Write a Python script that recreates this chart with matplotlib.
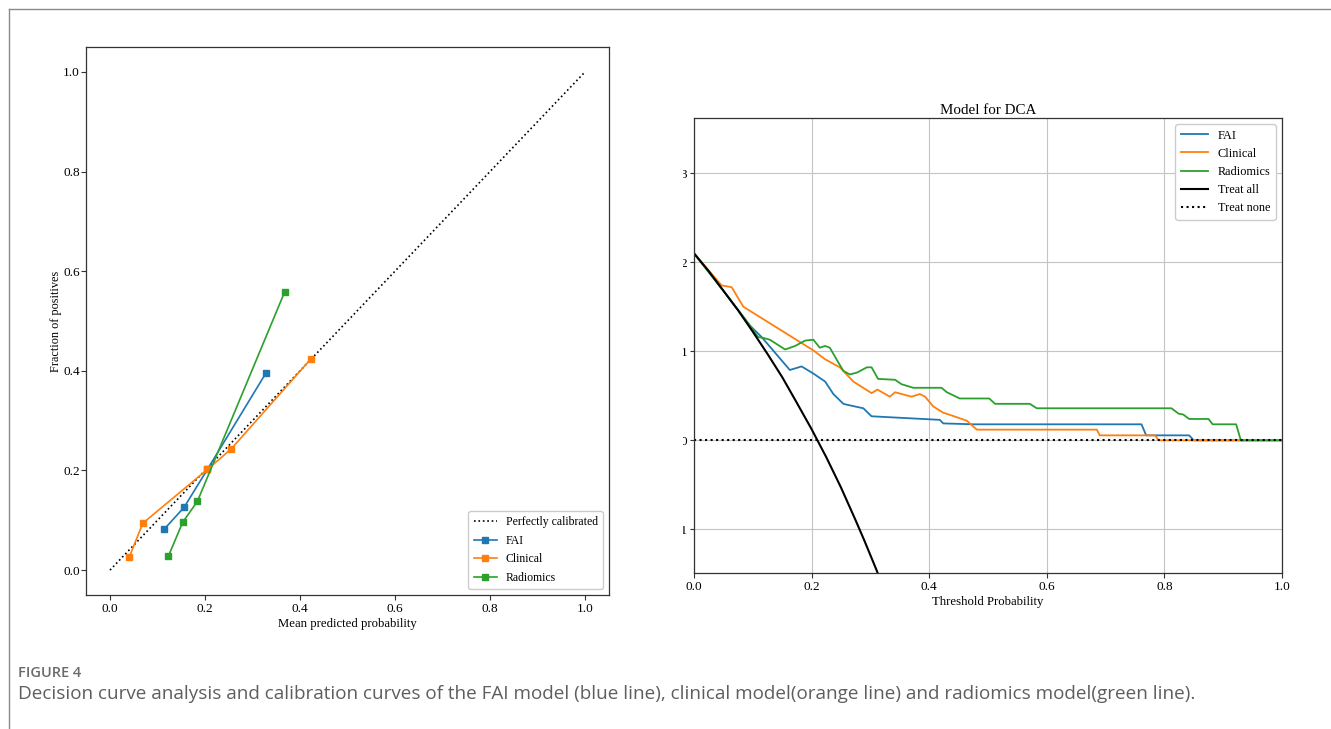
import matplotlib
matplotlib.use("Agg")
import matplotlib.pyplot as plt
from matplotlib.transforms import Bbox, TransformedBbox
from matplotlib.lines import Line2D

# ---------------- Calibration data ----------------
fai_pred = [0.114, 0.156, 0.205, 0.328]
fai_frac = [0.082, 0.126, 0.202, 0.395]
clin_pred = [0.041, 0.069, 0.205, 0.255, 0.423]
clin_frac = [0.027, 0.094, 0.202, 0.243, 0.424]
rad_pred = [0.123, 0.153, 0.184, 0.368]
rad_frac = [0.028, 0.096, 0.138, 0.559]
cal_ticks = [0.0, 0.2, 0.4, 0.6, 0.8, 1.0]

# ---------------- DCA data ----------------
fai_thr = [0.0, 0.05, 0.095, 0.115, 0.163, 0.183, 0.203, 0.223, 0.237, 0.254, 0.26, 0.288,
           0.302, 0.418, 0.424, 0.475, 0.52, 0.761, 0.769, 0.842, 0.85, 1.0]
fai_nb = [0.21, 0.168, 0.129, 0.116, 0.079, 0.083, 0.075, 0.066, 0.052, 0.041, 0.040, 0.036,
          0.027, 0.023, 0.019, 0.018, 0.018, 0.018, 0.0056, 0.0056, 0.0, 0.0]
clin_thr = [0.0, 0.047, 0.064, 0.084, 0.203, 0.223, 0.248, 0.271, 0.302, 0.312, 0.333, 0.342,
            0.370, 0.384, 0.393, 0.407, 0.424, 0.438, 0.464, 0.481, 0.685, 0.69, 0.784, 0.79, 1.0]
clin_nb = [0.21, 0.174, 0.172, 0.150, 0.101, 0.091, 0.082, 0.066, 0.053, 0.057, 0.049, 0.054,
           0.049, 0.052, 0.049, 0.038, 0.031, 0.028, 0.022, 0.012, 0.012, 0.0056, 0.0056, 0.0, 0.0]
rad_thr = [0.0, 0.05, 0.095, 0.109, 0.118, 0.129, 0.155, 0.172, 0.189, 0.203, 0.214, 0.223,
           0.231, 0.245, 0.254, 0.265, 0.277, 0.294, 0.302, 0.313, 0.342, 0.353, 0.373, 0.421,
           0.430, 0.452, 0.502, 0.512, 0.571, 0.583, 0.812, 0.824, 0.832, 0.842, 0.875, 0.882,
           0.922, 0.930, 1.0]
rad_nb = [0.21, 0.168, 0.129, 0.116, 0.115, 0.113, 0.102, 0.106, 0.112, 0.113, 0.104, 0.106,
          0.104, 0.088, 0.078, 0.074, 0.076, 0.082, 0.082, 0.069, 0.068, 0.063, 0.059, 0.059,
          0.054, 0.047, 0.047, 0.041, 0.041, 0.036, 0.036, 0.030, 0.029, 0.024, 0.024, 0.018,
          0.018, 0.0, 0.0]
all_thr = [0.0, 0.025, 0.05, 0.075, 0.10, 0.125, 0.15, 0.175, 0.20, 0.225, 0.25, 0.275,
           0.29, 0.31, 0.32]
all_nb = [0.21, 0.190, 0.168, 0.146, 0.122, 0.097, 0.071, 0.042, 0.0125, -0.019, -0.053,
          -0.090, -0.113, -0.145, -0.162]
none_thr = [0.0, 1.0]
none_nb = [0.0, 0.0]
dca_xticks = [0.0, 0.2, 0.4, 0.6, 0.8, 1.0]
dca_yticks = [-0.1, 0.0, 0.1, 0.2, 0.3]

C_BLUE, C_ORANGE, C_GREEN = "#1f77b4", "#ff7f0e", "#2ca02c"
SERIF = ["Liberation Serif", "DejaVu Serif"]

W, H = 1331, 729
fig = plt.figure(figsize=(W / 100, H / 100), dpi=100)
fig.patch.set_facecolor("white")

# frame lines of the page
fig.add_artist(Line2D([9 / W, 1.0], [1 - 9 / H, 1 - 9 / H], transform=fig.transFigure,
                      color="#8a8a8a", lw=1.0))
fig.add_artist(Line2D([9 / W, 9 / W], [0.0, 1 - 9 / H], transform=fig.transFigure,
                      color="#8a8a8a", lw=1.0))

# ---------------- Left: calibration ----------------
ax1 = fig.add_axes([86.25 / W, 1 - 595 / H, 522.5 / W, 548 / H])
ax1.plot([0, 1], [0, 1], ls=":", color="black", lw=1.2, label="Perfectly calibrated")
ax1.plot(fai_pred, fai_frac, "s-", color=C_BLUE, ms=5, lw=1.2, label="FAI")
ax1.plot(clin_pred, clin_frac, "s-", color=C_ORANGE, ms=5, lw=1.2, label="Clinical")
ax1.plot(rad_pred, rad_frac, "s-", color=C_GREEN, ms=5, lw=1.2, label="Radiomics")
ax1.set_xlim(-0.05, 1.05)
ax1.set_ylim(-0.05, 1.05)
ax1.set_xticks(cal_ticks)
ax1.set_yticks(cal_ticks)
ax1.set_xticklabels([f"{t:.1f}" for t in cal_ticks], family=SERIF, fontsize=9.5)
ax1.set_yticklabels([f"{t:.1f}" for t in cal_ticks], family=SERIF, fontsize=9.5)
ax1.set_xlabel("Mean predicted probability", family=SERIF, fontsize=9.2, labelpad=2)
ax1.set_ylabel("Fraction of positives", family=SERIF, fontsize=8.8, labelpad=1)
ax1.tick_params(length=3.5, width=0.8, color="#333333", pad=2.5)
ax1.tick_params(axis="y", pad=1.2)
for s in ax1.spines.values():
    s.set_linewidth(0.9)
    s.set_color("#333333")
ax1.legend(loc="lower right", prop={"family": SERIF, "size": 8.5}, frameon=True,
           fancybox=True, framealpha=1.0, edgecolor="#cccccc", handlelength=2.0,
           borderpad=0.45, labelspacing=0.55, handletextpad=0.7)

# ---------------- Right: DCA ----------------
ax2 = fig.add_axes([694 / W, 1 - 573 / H, 588 / W, 455 / H])
ax2.plot(fai_thr, fai_nb, color=C_BLUE, lw=1.3, label="FAI")
ax2.plot(clin_thr, clin_nb, color=C_ORANGE, lw=1.3, label="Clinical")
ax2.plot(rad_thr, rad_nb, color=C_GREEN, lw=1.3, label="Radiomics")
ax2.plot(all_thr, all_nb, color="black", lw=1.5, label="Treat all")
ax2.plot(none_thr, none_nb, color="black", lw=1.5, ls=":", label="Treat none")
ax2.set_xlim(0, 1)
ax2.set_ylim(-0.149, 0.362)
ax2.set_xticks(dca_xticks)
ax2.set_yticks(dca_yticks)
ax2.set_xticklabels([f"{t:.1f}" for t in dca_xticks], family=SERIF, fontsize=9.5)
ax2.set_yticklabels([f"{t:.1f}" for t in dca_yticks], family=SERIF, fontsize=9.5)
ax2.grid(True, color="#c4c4c4", lw=0.8)
ax2.set_axisbelow(True)
ax2.set_xlabel("Threshold Probability", family=SERIF, fontsize=9.2, labelpad=2)
ax2.set_title("Model for DCA", family=SERIF, fontsize=10.8, pad=3)
ax2.tick_params(length=3.5, width=0.8, color="#333333")
ax2.tick_params(axis="y", length=3, pad=1.5)
ax2.tick_params(axis="x", pad=2.5)
for s in ax2.spines.values():
    s.set_linewidth(0.9)
    s.set_color("#333333")
ax2.legend(loc="upper right", prop={"family": SERIF, "size": 8.8}, frameon=True,
           fancybox=True, framealpha=1.0, edgecolor="#cccccc", handlelength=2.2,
           borderpad=0.45, labelspacing=0.5)

# ---------------- Caption ----------------
fig.text(18 / W, 1 - 673 / H, "FIGURE 4", family=["Open Sans", "DejaVu Sans"],
         fontsize=10.5, color="#6b6b6b", va="center", ha="left", weight="semibold")
fig.text(18 / W, 1 - 694 / H,
         "Decision curve analysis and calibration curves of the FAI model (blue line), "
         "clinical model(orange line) and radiomics model(green line).",
         family=["Open Sans", "DejaVu Sans"], fontsize=13.6, color="#5e5e5e",
         va="center", ha="left")

# clip the right panel's y tick labels as in the cropped original
fig.canvas.draw()
clipbox = TransformedBbox(Bbox.from_extents(682.5 / W, 0, 1, 1), fig.transFigure)
for t in ax2.yaxis.get_major_ticks():
    t.label1.set_clip_on(True)
    t.label1.set_clip_box(clipbox)

fig.savefig("out.png", dpi=100, facecolor="white")
